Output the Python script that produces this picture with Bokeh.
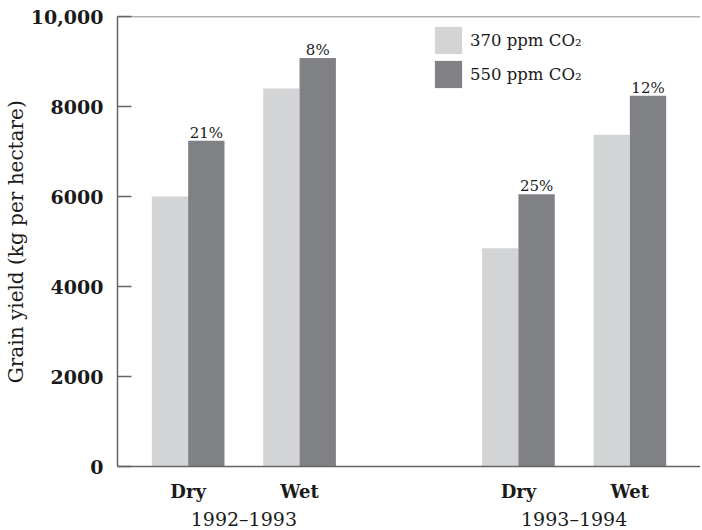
from bokeh.plotting import figure
from bokeh.models import (FactorRange, Range1d, FixedTicker, Span, Legend,
                          LegendItem, ColumnDataSource)
from bokeh.transform import dodge
from bokeh.core.properties import value
from bokeh.embed import file_html
from bokeh.resources import INLINE

# ---- data ----
seasons = ["1992–1993", "1993–1994"]
conditions = ["Dry", "Wet"]
co2_370 = [6000, 8400, 4850, 7370]
co2_550 = [7240, 9080, 6050, 8240]
increase = ["21%", "8%", "25%", "12%"]
series_labels = ["370 ppm CO₂", "550 ppm CO₂"]
y_ticks = [0, 2000, 4000, 6000, 8000, 10000]
y_tick_labels = ["0", "2000", "4000", "6000", "8000", "10,000"]
y_title = "Grain yield (kg per hectare)"

FONT = "DejaVu Serif"
TXT = "#1a1a1a"
AX = "#666666"
LIGHT = "#d3d4d6"
DARK = "#808185"

factors = [(s, c) for s in seasons for c in conditions]
cond_labels = [c for s in seasons for c in conditions]
src = ColumnDataSource(dict(x=factors, low=co2_370, high=co2_550,
                            pct=increase, cond=cond_labels))

x_range = FactorRange(*factors, factor_padding=0.0, group_padding=0.964,
                      range_padding=0.134, range_padding_units="absolute")

# frame reaches the bottom of the canvas; y below 0 hosts the category labels
p = figure(x_range=x_range, y_range=Range1d(-1422, 10000), width=700, height=530,
           output_backend="svg", toolbar_location=None,
           min_border_left=116, min_border_right=0, min_border_top=16,
           min_border_bottom=0)
p.outline_line_color = None
p.xgrid.visible = False
p.ygrid.visible = False
p.xaxis.visible = False

bw = 0.326
r1 = p.vbar(x=dodge('x', -bw / 2, range=p.x_range), top='low', width=bw,
            source=src, fill_color=LIGHT, line_color=None)
r2 = p.vbar(x=dodge('x', bw / 2, range=p.x_range), top='high', width=bw,
            source=src, fill_color=DARK, line_color=None)

p.text(x=dodge('x', bw / 2, range=p.x_range), y='high', text='pct', source=src,
       text_align='center', text_baseline='bottom', y_offset=1,
       text_font=value(FONT), text_font_size="15px", text_color=TXT)

# baseline and top border
p.add_layout(Span(location=0, dimension="width", line_color=AX, line_width=1.5))
p.add_layout(Span(location=10000, dimension="width", line_color=AX, line_width=1.5))

# category labels below the baseline
p.text(x='x', y=0, text='cond', source=src, text_align='center',
       text_baseline='middle', y_offset=25, text_font=value(FONT),
       text_font_size="18px", text_font_style="bold", text_color=TXT)
p.text(x=seasons, y=[0] * len(seasons), text=seasons, text_align='center',
       text_baseline='middle', y_offset=52, text_font=value(FONT),
       text_font_size="19px", text_font_style="normal", text_color=TXT)

# y axis
ya = p.yaxis[0]
ya.bounds = (0, 10000)
ya.ticker = FixedTicker(ticks=y_ticks)
ya.major_label_overrides = dict(zip(y_ticks, y_tick_labels))
ya.major_tick_in = 14
ya.major_tick_out = 0
ya.minor_tick_line_color = None
ya.major_tick_line_color = AX
ya.major_tick_line_width = 1.5
ya.axis_line_color = AX
ya.axis_line_width = 1.5
ya.major_label_standoff = 14
ya.major_label_text_font = FONT
ya.major_label_text_font_size = "19px"
ya.major_label_text_font_style = "bold"
ya.major_label_text_color = TXT
# leading no-break spaces lift the title so it centres on the 0-10,000 span
ya.axis_label = "\u00a0" * 10 + y_title
ya.axis_label_standoff = 0
ya.axis_label_text_font = FONT
ya.axis_label_text_font_size = "20px"
ya.axis_label_text_font_style = "normal"
ya.axis_label_text_color = TXT

legend = Legend(items=[LegendItem(label=series_labels[0], renderers=[r1]),
                       LegendItem(label=series_labels[1], renderers=[r2])],
                location=(314, 439), glyph_width=34, glyph_height=34,
                label_height=34, spacing=0, padding=0, margin=0,
                border_line_color=None, background_fill_alpha=0,
                label_standoff=5, label_text_font=FONT,
                label_text_font_size="16.5px", label_text_color=TXT,
                label_text_baseline="middle")
p.add_layout(legend)

open("out.html", "w").write(file_html(p, INLINE))
